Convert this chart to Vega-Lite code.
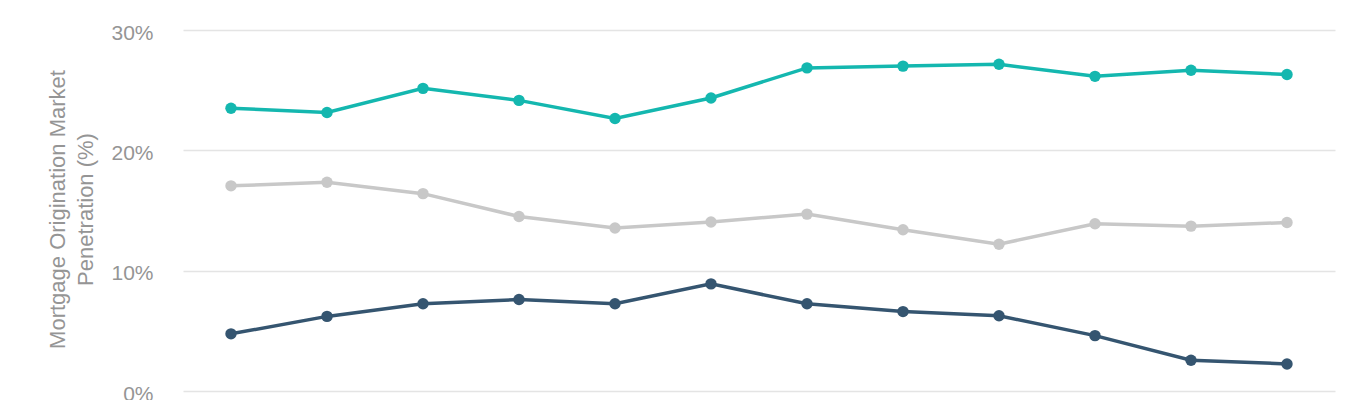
{
  "$schema": "https://vega.github.io/schema/vega-lite/v6.json",
  "autosize": {"type": "none"},
  "padding": {"left": 183, "top": 30, "right": 35, "bottom": 9},
  "width": 1152,
  "height": 361,
  "background": "white",
  "config": {"view": {"stroke": null}, "font": "Liberation Sans"},
  "datasets": {
    "rows": [
      {"period": "1", "series": "A", "value": 23.5},
      {"period": "2", "series": "A", "value": 23.15},
      {"period": "3", "series": "A", "value": 25.15},
      {"period": "4", "series": "A", "value": 24.15},
      {"period": "5", "series": "A", "value": 22.65},
      {"period": "6", "series": "A", "value": 24.35},
      {"period": "7", "series": "A", "value": 26.85},
      {"period": "8", "series": "A", "value": 27.0},
      {"period": "9", "series": "A", "value": 27.15},
      {"period": "10", "series": "A", "value": 26.15},
      {"period": "11", "series": "A", "value": 26.65},
      {"period": "12", "series": "A", "value": 26.3},
      {"period": "1", "series": "B", "value": 17.05},
      {"period": "2", "series": "B", "value": 17.35},
      {"period": "3", "series": "B", "value": 16.4},
      {"period": "4", "series": "B", "value": 14.5},
      {"period": "5", "series": "B", "value": 13.55},
      {"period": "6", "series": "B", "value": 14.05},
      {"period": "7", "series": "B", "value": 14.7},
      {"period": "8", "series": "B", "value": 13.4},
      {"period": "9", "series": "B", "value": 12.2},
      {"period": "10", "series": "B", "value": 13.9},
      {"period": "11", "series": "B", "value": 13.7},
      {"period": "12", "series": "B", "value": 14.0},
      {"period": "1", "series": "C", "value": 4.75},
      {"period": "2", "series": "C", "value": 6.2},
      {"period": "3", "series": "C", "value": 7.25},
      {"period": "4", "series": "C", "value": 7.6},
      {"period": "5", "series": "C", "value": 7.25},
      {"period": "6", "series": "C", "value": 8.9},
      {"period": "7", "series": "C", "value": 7.25},
      {"period": "8", "series": "C", "value": 6.6},
      {"period": "9", "series": "C", "value": 6.25},
      {"period": "10", "series": "C", "value": 4.6},
      {"period": "11", "series": "C", "value": 2.55},
      {"period": "12", "series": "C", "value": 2.25}
    ]
  },
  "data": {"name": "rows"},
  "encoding": {
    "x": {
      "field": "period",
      "type": "ordinal",
      "sort": null,
      "scale": {"type": "point", "padding": 0.5},
      "axis": null
    },
    "y": {
      "field": "value",
      "type": "quantitative",
      "scale": {"domain": [0, 30], "nice": false, "zero": true},
      "axis": {
        "values": [0, 10, 20, 30],
        "labelExpr": "datum.value + '%'",
        "domain": false,
        "ticks": false,
        "grid": true,
        "gridColor": "#e4e4e4",
        "gridWidth": 1.5,
        "labelFontSize": 21,
        "labelColor": "#959595",
        "labelPadding": 30,
        "labelOffset": 3,
        "labelFont": "Liberation Sans",
        "title": ["Mortgage Origination Market", "Penetration (%)"],
        "titleFont": "Liberation Sans",
        "titleFontSize": 22,
        "titleFontWeight": "normal",
        "titleColor": "#959595",
        "titleLineHeight": 28,
        "titleAngle": -90,
        "titleAlign": "center",
        "titleBaseline": "bottom",
        "titleX": -114,
        "titleY": 179
      }
    },
    "color": {
      "field": "series",
      "type": "nominal",
      "scale": {"domain": ["A", "B", "C"], "range": ["#14b7af", "#c8c8c8", "#355570"]},
      "legend": null
    }
  },
  "layer": [
    {"mark": {"type": "line", "strokeWidth": 3.5}},
    {"mark": {"type": "point", "filled": true, "size": 130, "opacity": 1}}
  ]
}
